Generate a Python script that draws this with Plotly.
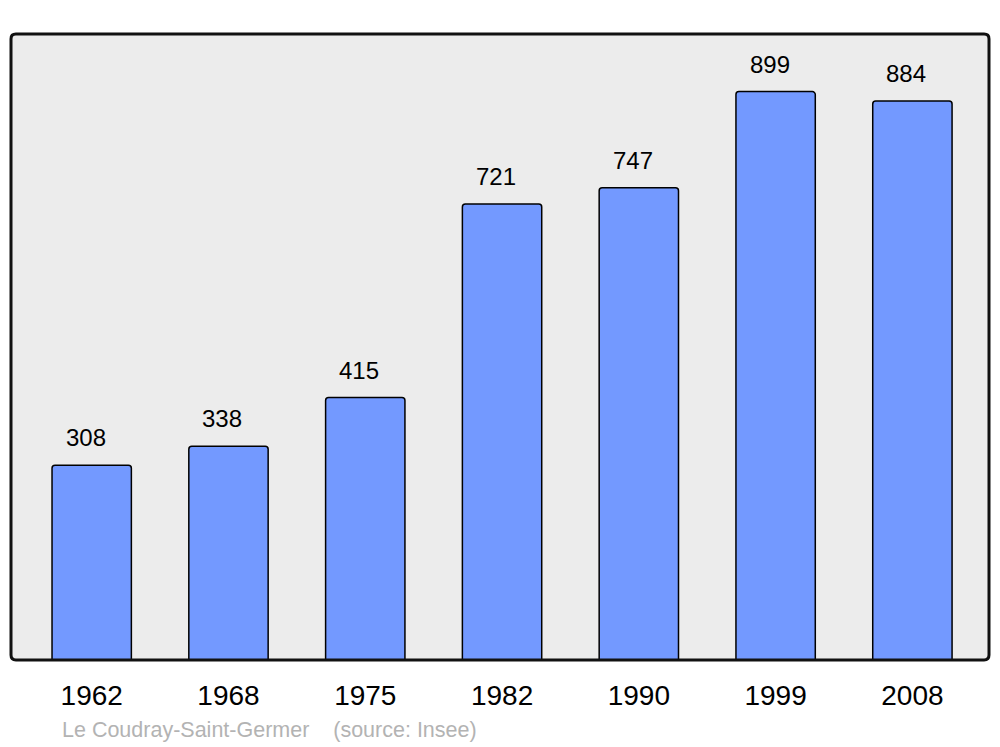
import plotly.graph_objects as go

years = ["1962", "1968", "1975", "1982", "1990", "1999", "2008"]
population = [308, 338, 415, 721, 747, 899, 884]
source_text = "Le Coudray-Saint-Germer    (source: Insee)"

fig = go.Figure()
fig.add_trace(go.Bar(
    x=years, y=population,
    width=0.58,
    marker=dict(color="#7399ff", line=dict(color="#000000", width=1.5), cornerradius=3),
    hoverinfo="skip",
))

for i, v in enumerate(population):
    fig.add_annotation(x=i, y=v, xref="x", yref="y", text=str(v), showarrow=False,
                       yanchor="bottom", yshift=12, xshift=-6,
                       font=dict(family="Liberation Sans, Arial", size=24, color="#000000"))

fig.add_annotation(x=0.05, xref="paper", xanchor="left", y=-0.112, yref="paper",
                   yanchor="middle", text=source_text, showarrow=False,
                   font=dict(family="Liberation Sans, Arial", size=21.5, color="#b3b3b3"))

# rounded frame around plot area
r = 0.005
ry = r * 978 / 626
path = (f"M {r},0 L {1-r},0 Q 1,0 1,{ry} L 1,{1-ry} Q 1,1 {1-r},1 "
        f"L {r},1 Q 0,1 0,{1-ry} L 0,{ry} Q 0,0 {r},0 Z")
fig.add_shape(type="path", xref="paper", yref="paper", path=path,
              line=dict(color="#111111", width=3), layer="above")

fig.update_layout(
    width=1000, height=747,
    margin=dict(l=11, r=11, t=34, b=87),
    paper_bgcolor="#ffffff", plot_bgcolor="#ececec",
    showlegend=False,
    bargap=0.42,
    xaxis=dict(type="category", range=[-0.59, 6.56], showgrid=False, zeroline=False,
               showline=False, ticks="outside", ticklen=10, tickcolor="rgba(0,0,0,0)",
               tickfont=dict(family="Liberation Sans, Arial", size=28, color="#000000")),
    yaxis=dict(range=[0, 990], showgrid=False, zeroline=False, showline=False,
               showticklabels=False, ticks=""),
)

fig.write_html("out.html", config={"displayModeBar": False},
               post_script="document.body.style.margin='0';")
